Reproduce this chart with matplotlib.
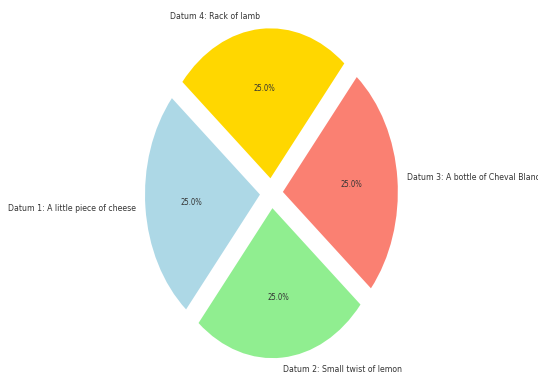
import matplotlib
matplotlib.use("Agg")
import matplotlib.pyplot as plt

labels = ["Datum 1: A little piece of cheese", "Datum 2: Small twist of lemon",
          "Datum 3: A bottle of Cheval Blanc", "Datum 4: Rack of lamb"]
sizes = [25, 25, 25, 25]
colors = ["lightblue", "lightgreen", "salmon", "gold"]
explode = [0.1, 0.1, 0.1, 0.1]

plt.rcParams['font.family'] = ['DejaVu Sans']
plt.rcParams['font.stretch'] = 'condensed'

fig = plt.figure(figsize=(5.38, 3.8), dpi=100)
ax = fig.add_axes([0.184, 0.018, 0.641, 0.947])

wedges, texts, autotexts = ax.pie(sizes, labels=labels, colors=colors, explode=explode,
                                  autopct='%1.1f%%', startangle=140, labeldistance=1.08,
                                  textprops={'fontsize': 6.2, 'color': '#333333'})
for t in autotexts:
    t.set_fontsize(5.5)

ax.set_aspect('auto')
ax.set_xlim(-1.5, 1.5)
ax.set_ylim(-1.2, 1.2)

fig.savefig("out.png", dpi=100)
